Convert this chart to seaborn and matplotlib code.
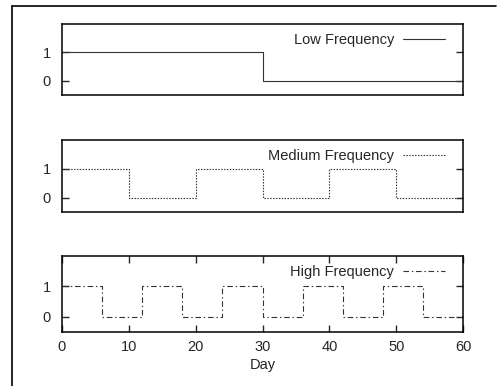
import matplotlib
matplotlib.use("Agg")
import matplotlib.pyplot as plt
import pandas as pd
import seaborn as sns
from matplotlib.lines import Line2D

# step signals, value holds until the next day listed
low_days = [0, 30, 60]
low_vals = [1, 0, 0]
med_days = [0, 10, 20, 30, 40, 50, 60]
med_vals = [1, 0, 1, 0, 1, 0, 0]
high_days = [0, 6, 12, 18, 24, 30, 36, 42, 48, 54, 60]
high_vals = [1, 0, 1, 0, 1, 0, 1, 0, 1, 0, 0]

panel_names = ["Low Frequency", "Medium Frequency", "High Frequency"]
y_ticks = [0, 1]
x_ticks = [0, 10, 20, 30, 40, 50, 60]

sns.set_theme(style="white")
plt.rcParams["font.family"] = ["Liberation Sans", "DejaVu Sans"]
plt.rcParams["font.size"] = 10.5

W, H = 499, 386
fig = plt.figure(figsize=(W / 100, H / 100), dpi=100)

# figure frame: left and top edges only
fig.add_artist(Line2D([12 / W, 12 / W], [0, 1 - 6 / H], color="black", lw=1.2))
fig.add_artist(Line2D([12 / W, 496 / W], [1 - 6 / H, 1 - 6 / H], color="black", lw=1.2))

# pixel boxes: left, top, right, bottom
boxes = [(62, 24, 463, 95), (62, 140, 463, 212), (62, 256, 463, 332)]
styles = ["-", (0, (1.3, 1.3)), (0, (5, 2.5, 1.3, 2.5))]
series = [(low_days, low_vals), (med_days, med_vals), (high_days, high_vals)]

for i, ((l, t, r, b), (days, vals)) in enumerate(zip(boxes, series)):
    ax = fig.add_axes([l / W, 1 - b / H, (r - l) / W, (b - t) / H])
    df = pd.DataFrame({"Day": days, "Value": vals})
    sns.lineplot(data=df, x="Day", y="Value", ax=ax, drawstyle="steps-post",
                 color="#333333", lw=0.8, linestyle=styles[i], label=panel_names[i])
    ax.set_xlim(0, 60)
    ax.set_ylim(-0.5, 2)
    ax.set_yticks(y_ticks)
    ax.tick_params(axis="y", direction="in", right=True, left=True, length=5,
                   width=1, labelsize=10.5, pad=8)
    if i == 2:
        ax.set_xticks(x_ticks)
        ax.tick_params(axis="x", direction="in", top=True, bottom=True, length=5,
                       width=1, labelsize=10.5, pad=6)
        ax.set_xlabel("Day", fontsize=10.5, labelpad=3)
    else:
        ax.set_xticks([])
        ax.set_xlabel("")
    ax.set_ylabel("")
    for s in ax.spines.values():
        s.set_color("black")
        s.set_linewidth(1.1)
    ax.legend(loc="upper right", bbox_to_anchor=(0.977, 1.0), frameon=False,
              markerfirst=False, handlelength=2.9, handletextpad=0.6,
              borderaxespad=0.2, borderpad=0.4, fontsize=10.5)

fig.savefig("out.png", dpi=100)
